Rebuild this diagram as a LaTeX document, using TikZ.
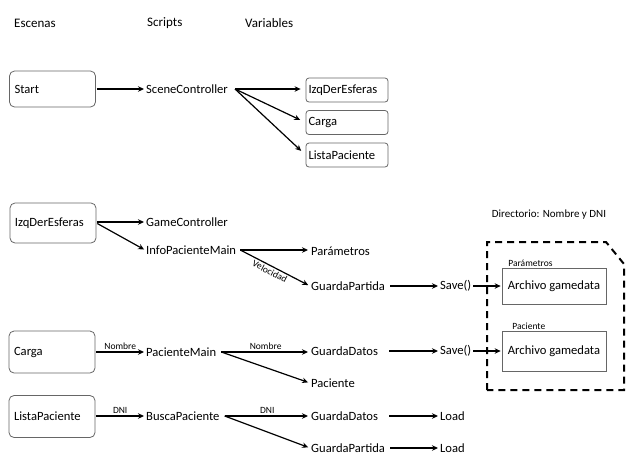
\documentclass[tikz,border=0pt]{standalone}
\usepackage{fontspec}
\setmainfont{Carlito}
\usetikzlibrary{arrows.meta}
\begin{document}
\begin{tikzpicture}[x=1pt,y=-1pt,
  every node/.style={font=\fontsize{12.6}{14}\selectfont},
  scenebox/.style={draw=black!60, rounded corners=5pt, line width=0.8pt, minimum width=86pt, text width=76pt, inner sep=5pt, align=left},
  varbox/.style={draw=black!60, rounded corners=3pt, line width=0.8pt, minimum width=82pt, minimum height=24pt, text width=77pt, inner sep=2.5pt, align=left},
  txt/.style={anchor=west, inner sep=1pt},
  hdr/.style={anchor=west, inner sep=1pt, font=\fontsize{13}{15}\selectfont},
  lbl/.style={font=\fontsize{9.5}{11}\selectfont, inner sep=1.5pt},
  arr/.style={-{Stealth[length=6pt,width=5.5pt]}, line width=1.2pt},
  filebox/.style={draw=black!60, line width=0.7pt, minimum width=104pt, minimum height=36pt, inner sep=2pt},
  dirbox/.style={line width=2pt, dash pattern=on 7pt off 5pt}
]
\useasboundingbox (0,0) rectangle (627,456);

% headers
\node[hdr] (hEsc) at (13,23) {Escenas};
\node[hdr] (hScr) at (146,23) {Scripts};
\node[hdr] (hVar) at (244,23) {Variables};

% row 1
\node[scenebox, minimum height=36pt] (start) at (52.5,89) {Start};
\node[txt] (sc) at (145,89) {SceneController};
\node[varbox] (vIzq) at (347,90) {IzqDerEsferas};
\node[varbox] (vCarga) at (347,122.5) {Carga};
\node[varbox] (vLista) at (347,155) {ListaPaciente};
\coordinate (scO) at ([xshift=6pt]sc.east);
\draw[arr, shorten <=1pt, shorten >=1pt] (start) -- (sc);
\draw[arr, shorten >=5pt] (scO) -- (vIzq.west |- scO);
\draw[arr, shorten >=6pt] (scO) -- (vCarga.west);
\draw[arr, shorten >=6pt] (scO) -- (vLista.west);

% row 2
\node[scenebox, minimum height=40pt] (sIzq) at (53,223) {IzqDerEsferas};
\node[txt] (gc) at (145,222) {GameController};
\node[txt] (ipm) at (145,250) {InfoPacienteMain};
\draw[arr, shorten <=1pt, shorten >=1pt] (sIzq.east |- gc) -- (gc.west);
\draw[arr, shorten <=1pt, shorten >=1pt] (sIzq.east) -- (ipm.west);
\coordinate (ipmO) at ([xshift=3pt]ipm.east);
\node[txt] (par) at (310,251) {Parámetros};
\node[txt] (gp1) at (310,286) {GuardaPartida};
\draw[arr, shorten >=2pt] (ipmO) -- (par.west |- ipmO);
\draw[arr, shorten >=2pt] (ipmO) -- node[lbl, below=1pt, sloped, pos=0.46, inner sep=0.5pt] (vel) {Velocidad} (gp1.west);
\node[txt] (sv1) at (439,286) {Save()};
\draw[arr, shorten <=4pt, shorten >=1pt] (gp1) -- (sv1);
\node[filebox] (f1) at (554,286) {Archivo gamedata};
\draw[arr, shorten <=1pt, shorten >=1pt] (sv1) -- (f1);
\node[lbl, anchor=south west] (f1l) at ([xshift=5pt,yshift=-0.5pt]f1.north west) {Parámetros};

% row 3
\node[scenebox, minimum height=42pt] (sCarga) at (52,352) {Carga};
\node[txt] (pm) at (145,352) {PacienteMain};
\draw[arr, shorten <=1pt, shorten >=1pt] (sCarga) -- node[lbl, above] (n1) {Nombre} (pm);
\node[txt] (gd1) at (310,351) {GuardaDatos};
\node[txt] (pac) at (310,383) {Paciente};
\coordinate (pmO) at ([xshift=4pt]pm.east);
\draw[arr, shorten >=2pt] (pmO) -- node[lbl, above] (n2) {Nombre} (gd1.west |- pmO);
\draw[arr, shorten >=2pt] (pmO) -- (pac.west);
\node[txt] (sv2) at (439,351) {Save()};
\draw[arr, shorten <=10pt, shorten >=1pt] (gd1) -- (sv2);
\node[filebox, minimum height=40pt] (f2) at (554,351) {Archivo gamedata};
\draw[arr, shorten <=1pt, shorten >=1pt] (sv2) -- (f2);
\node[lbl, anchor=south west] (f2l) at ([xshift=9pt,yshift=-0.5pt]f2.north west) {Paciente};

% row 4
\node[scenebox, minimum height=42pt] (sLista) at (52,416.5) {ListaPaciente};
\node[txt] (bp) at (145,416) {BuscaPaciente};
\draw[arr, shorten <=1pt, shorten >=1pt] (sLista.east |- bp) -- node[lbl, above] (d1) {DNI} (bp.west);
\node[txt] (gd2) at (310,416) {GuardaDatos};
\node[txt] (gp2) at (310,448) {GuardaPartida};
\coordinate (bpO) at ([xshift=4pt]bp.east);
\draw[arr, shorten >=2pt] (bpO) -- node[lbl, above] (d2) {DNI} (gd2.west |- bpO);
\draw[arr, shorten >=2pt] (bpO) -- (gp2.west);
\node[txt] (ld1) at (439,416) {Load};
\node[txt] (ld2) at (439,448) {Load};
\draw[arr, shorten <=10pt, shorten >=1pt] (gd2) -- (ld1);
\draw[arr, shorten <=4pt, shorten >=1pt] (gp2) -- (ld2);

% directory
\node[font=\fontsize{11}{13}\selectfont, inner sep=1pt] (dir) at (549,215) {Directorio: Nombre y DNI};
\draw[dirbox] (487,390) -- (487,242) -- (606,242) -- (624,264) -- (624,390) -- cycle;
\end{tikzpicture}
\end{document}
